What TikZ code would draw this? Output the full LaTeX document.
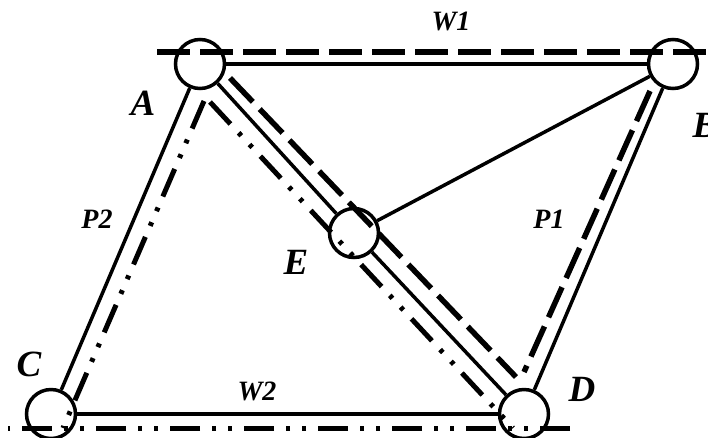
\documentclass[tikz,border=0pt]{standalone}
\usepackage{fontspec}
\setmainfont{Liberation Serif}
\begin{document}
\begin{tikzpicture}[x=1pt,y=-1pt,
 joint/.style={circle,draw,line width=3.5pt,minimum size=49pt,inner sep=0pt},
 solidl/.style={line width=3.5pt},
 dashl/.style={line width=5.5pt,dash pattern=on 33pt off 10pt},
 ddl/.style={line width=5pt,dash pattern=on 30pt off 12pt on 4pt off 12pt on 4pt off 12pt},
 big/.style={font=\fontsize{37}{37}\selectfont\bfseries\itshape,inner sep=0pt},
 small/.style={font=\fontsize{28}{28}\selectfont\bfseries\itshape,inner sep=0pt}]
\useasboundingbox (0,0) rectangle (708,437);
% joints
\node[joint] (A) at (200,64) {};
\node[joint] (B) at (673,64) {};
\node[joint] (C) at (51,414) {};
\node[joint] (D) at (524,414) {};
\node[joint] (E) at (354,233) {};
% solid members
\draw[solidl] (A) -- (B);
\draw[solidl] (A) -- (C);
\draw[solidl] (A) -- (E);
\draw[solidl] (E) -- (D);
\draw[solidl] (B) -- (E);
\draw[solidl] (B) -- (D);
\draw[solidl] (C) -- (D);
% dashed lines
\coordinate (w1s) at (157,52);
\coordinate (w1e) at (712,52);
\draw[dashl] (w1s) -- (w1e);
\coordinate (pa) at (230,78);
\coordinate (pd) at (516,377);
\coordinate (pb) at (650,91);
\coordinate (pd2) at (524,372);
\draw[dashl] (pa) -- (pd);
\draw[dashl] (pb) -- (pd2);
% dash-dot lines
\coordinate (w2s) at (8,428);
\coordinate (w2e) at (570,428);
\coordinate (qc) at (63,428);
\coordinate (qa1) at (204,101);
\coordinate (qa2) at (210,102);
\coordinate (qd) at (513,428);
\draw[ddl] (w2e) -- (w2s);
\draw[ddl] (qa1) -- (qc);
\draw[ddl] (qa2) -- (qd);
% labels
\node[big] (lA) at (143,103) {A};
\node[big] (lB) at (705,125) {B};
\node[big] (lC) at (29,364) {C};
\node[big] (lD) at (582,389) {D};
\node[big] (lE) at (296,262) {E};
\node[small] (lW1) at (451,21) {W1};
\node[small] (lW2) at (257,391) {W2};
\node[small] (lP2) at (97,219) {P2};
\node[small] (lP1) at (549,219) {P1};
\end{tikzpicture}
\end{document}
